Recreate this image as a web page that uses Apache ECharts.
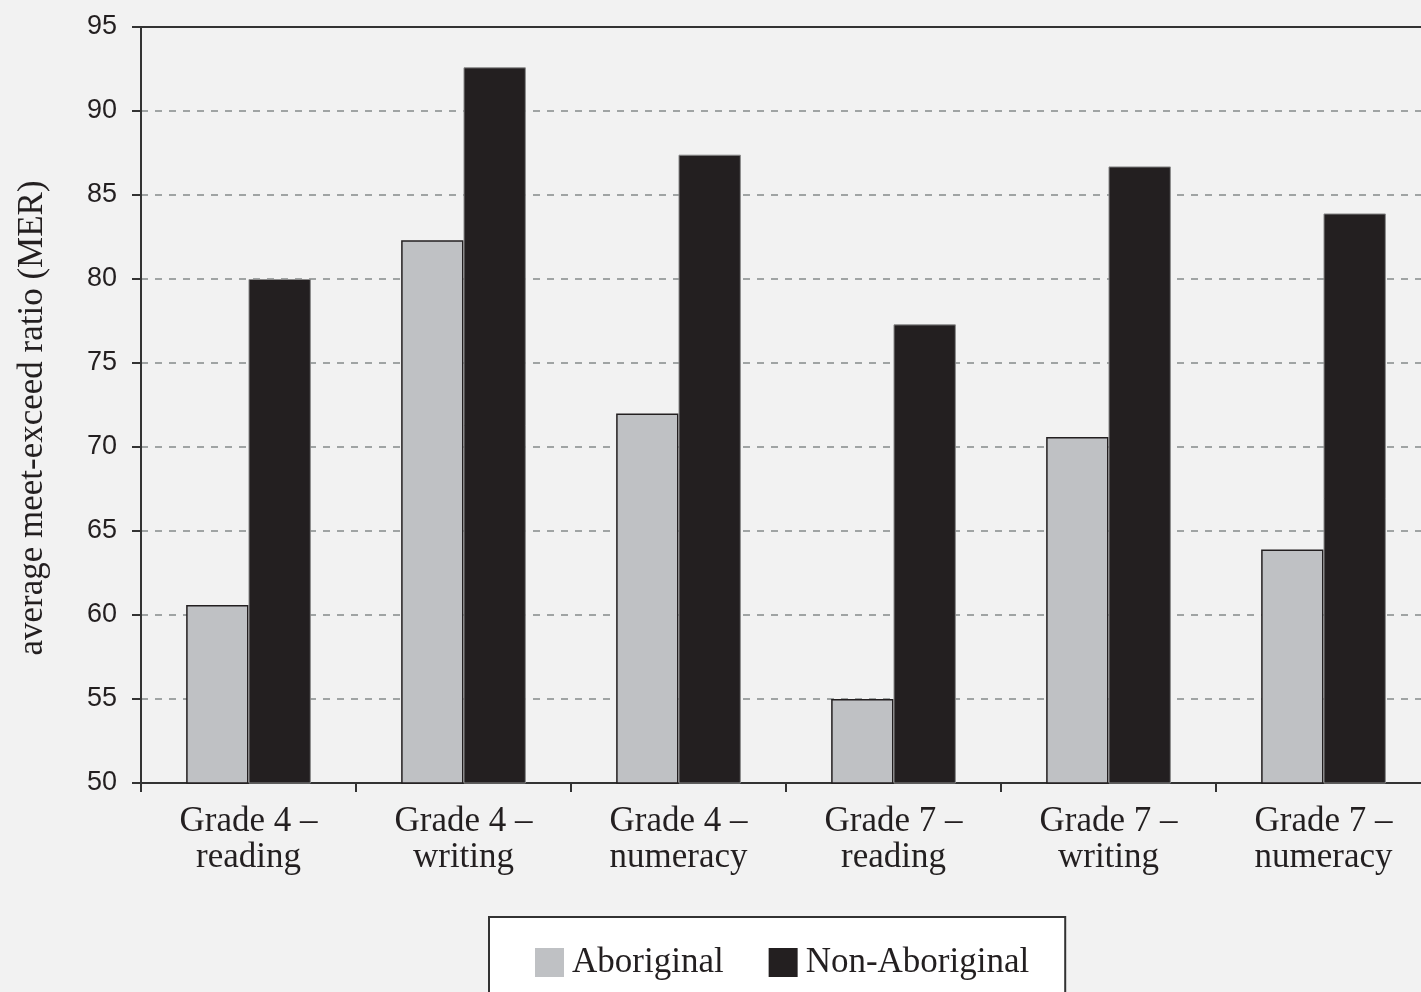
<!DOCTYPE html>
<html><head><meta charset="utf-8">
<script src="https://cdn.jsdelivr.net/npm/echarts@6/dist/echarts.min.js"></script>
<style>html,body{margin:0;padding:0;background:#f2f2f2;overflow:hidden;}#c{width:1431px;height:992px;}</style>
</head><body><div id="c"></div>
<script>
const categories = ["Grade 4 –\nreading","Grade 4 –\nwriting","Grade 4 –\nnumeracy","Grade 7 –\nreading","Grade 7 –\nwriting","Grade 7 –\nnumeracy"];
const aboriginal = [60.6, 82.3, 72.0, 55.0, 70.6, 63.9];
const nonAboriginal = [80.0, 92.6, 87.4, 77.3, 86.7, 83.9];
const yTicks = {min: 50, max: 95, interval: 5};
const yName = "average meet-exceed ratio (MER)";
const chart = echarts.init(document.getElementById('c'), null, {renderer:'canvas'});
const serif = '"Liberation Serif", "DejaVu Serif", serif';
chart.setOption({
  backgroundColor: '#f2f2f2',
  animation: false,
  grid: {left: 141, top: 27, right: 0, bottom: 209},
  legend: {
    left: 489, top: 917, orient: 'horizontal',
    backgroundColor: '#ffffff', borderColor: '#333', borderWidth: 2,
    padding: [28, 36, 40, 46], itemGap: 45, itemWidth: 29, itemHeight: 29,
    icon: 'rect',
    textStyle: {fontFamily: serif, fontSize: 35, color: '#231f20', padding: [0,0,0,3]},
    data: [
      {name: 'Aboriginal', itemStyle: {color: '#bfc1c4', borderWidth: 0}},
      {name: 'Non-Aboriginal', itemStyle: {color: '#231f20', borderWidth: 0}}
    ]
  },
  xAxis: [{
    type: 'category', data: categories,
    axisLine: {lineStyle: {color: '#333', width: 2}},
    axisTick: {show: true, length: 9, lineStyle: {color: '#333', width: 2}},
    axisLabel: {fontFamily: serif, fontSize: 35, color: '#231f20', lineHeight: 36, margin: 21}
  }, {
    type: 'category', data: categories, position: 'top',
    axisLine: {show: true, lineStyle: {color: '#333', width: 2}},
    axisTick: {show: false}, axisLabel: {show: false}, splitLine: {show: false}
  }],
  yAxis: {
    type: 'value', min: yTicks.min, max: yTicks.max, interval: yTicks.interval,
    name: yName, nameLocation: 'middle', nameGap: 91, nameRotate: 90,
    nameTextStyle: {fontFamily: serif, fontSize: 35, color: '#231f20', padding: [0, 26, 0, 0]},
    axisLine: {show: true, lineStyle: {color: '#333', width: 2}},
    axisTick: {show: true, length: 9, lineStyle: {color: '#333', width: 2}},
    axisLabel: {fontFamily: '"Liberation Sans", Arial, sans-serif', fontSize: 27, color: '#231f20', margin: 24},
    splitLine: {show: true, lineStyle: {color: '#a0a4a4', width: 2, type: [7, 7]}}
  },
  series: [
    {name: 'Aboriginal', type: 'bar', data: aboriginal, barGap: '0%', barCategoryGap: '42%',
     itemStyle: {color: '#bfc1c4', borderColor: '#231f20', borderWidth: 1.5}},
    {name: 'Non-Aboriginal', type: 'bar', data: nonAboriginal,
     itemStyle: {color: '#231f20', borderColor: '#8a8a8a', borderWidth: 1}}
  ]
});
</script></body></html>
